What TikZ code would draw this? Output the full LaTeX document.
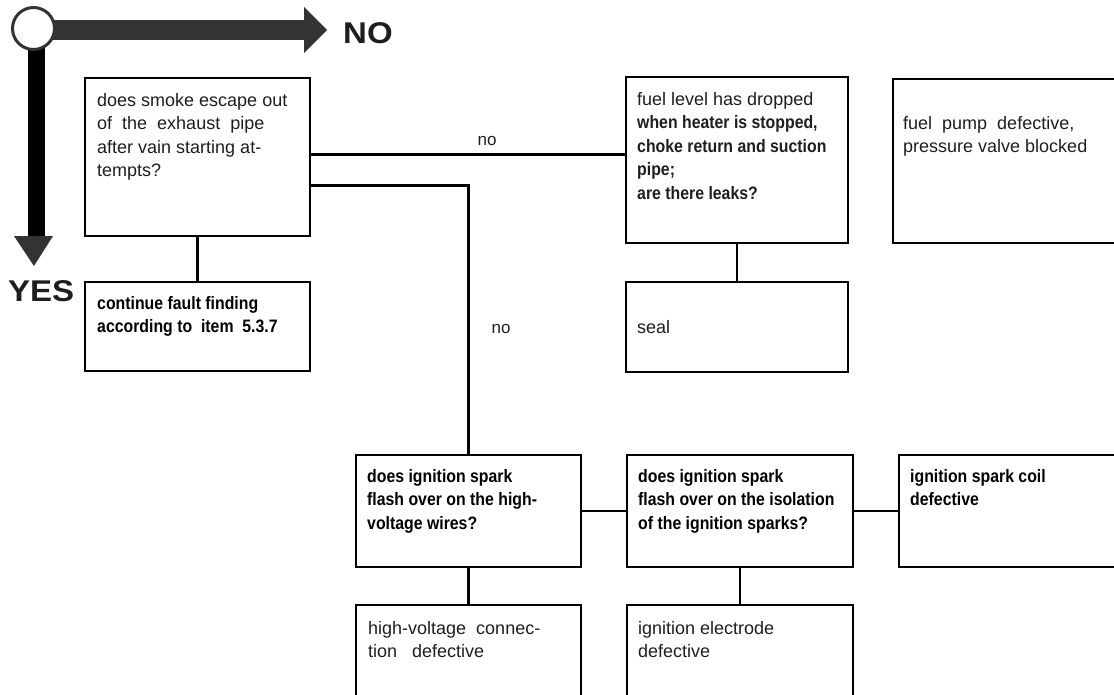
\documentclass[tikz,border=0pt]{standalone}
\usepackage{fontspec}
\setmainfont{Liberation Sans}
\newfontfamily\condsans{Liberation Sans}[FakeStretch=0.88]
\newfontfamily\widesans{Liberation Sans}[FakeStretch=1.1]
\usetikzlibrary{calc}
\definecolor{headgray}{HTML}{333333}
\definecolor{inkgray}{HTML}{1E1E1E}

\begin{document}
\begin{tikzpicture}[x=1pt,y=-1pt,
  box/.style={draw=black, line width=2pt, anchor=north west, inner sep=0pt, outer sep=0pt},
  txt/.style={anchor=north west, inner sep=0pt, align=left, text=inkgray,
    font=\fontsize{18}{23.5}\selectfont, execute at begin node={\rule{0pt}{14pt}}},
  btxt/.style={txt, text=black, font=\condsans\bfseries\fontsize{18}{23.5}\selectfont},
  link/.style={line width=2.5pt},
  nolink/.style={line width=3pt},
  lbl/.style={font=\fontsize{17}{20}\selectfont, anchor=base, inner sep=0pt, text=inkgray},
  big/.style={font=\widesans\bfseries\fontsize{30}{30}\selectfont, anchor=base west, inner sep=0pt, text=inkgray},
  hubcircle/.style={circle, draw=headgray, line width=3pt, fill=white, minimum size=42pt, inner sep=0pt}]

\useasboundingbox (0,0) rectangle (1114,694);

% ---- decision arrows: NO to the right, YES downwards ----
\coordinate (hub) at (33.5,28.5);
\fill[headgray] (hub |- 0,20) rectangle (304,40);
\fill[headgray] (304,7) -- (327,30) -- (304,53) -- cycle;
\fill[black] (28,0 |- hub) rectangle (45,237);
\fill[headgray] (14,236) -- (53,236) -- (34,266) -- cycle;
\node[hubcircle] (start) at (hub) {};
\node[big] (nolabel) at (343,43) {NO};
\node[big] (yeslabel) at (8,301) {YES};

% ---- boxes ----
\node[box, minimum width=225pt, minimum height=158pt] (q1) at (85,78) {};
\node[box, minimum width=225pt, minimum height=89pt]  (r1) at (85,282) {};
\node[box, minimum width=222pt, minimum height=166pt] (q2) at (626,77) {};
\node[box, minimum width=240pt, minimum height=164pt] (r2) at (893,79) {};
\node[box, minimum width=222pt, minimum height=90pt]  (r3) at (626,282) {};
\node[box, minimum width=225pt, minimum height=112pt] (q3) at (356,455) {};
\node[box, minimum width=226pt, minimum height=112pt] (q4) at (627,455) {};
\node[box, minimum width=240pt, minimum height=112pt] (r4) at (899,455) {};
\node[box, minimum width=225pt, minimum height=120pt] (r5) at (356,605) {};
\node[box, minimum width=226pt, minimum height=120pt] (r6) at (627,605) {};

% ---- box texts ----
\node[txt]  (q1t) at ($(q1.north west)+(12,15)$) {does smoke escape out\\of\ \ the\ \ exhaust\ \ pipe\\after vain starting at-\\tempts?};
\node[btxt] (r1t) at ($(r1.north west)+(12,14)$) {continue fault finding\\according to\ \ item\ \ 5.3.7};
\node[txt]  (q2t) at ($(q2.north west)+(11,15)$) {fuel level has dropped\\{\condsans\bfseries when heater is stopped,}\\{\condsans\bfseries choke return and suction}\\{\condsans\bfseries pipe;}\\{\condsans\bfseries are there leaks?}};
\node[txt]  (r2t) at ($(r2.north west)+(10,37)$) {fuel\ \ pump\ \ defective,\\pressure valve blocked};
\node[txt]  (r3t) at ($(r3.north west)+(11,37)$) {seal};
\node[btxt] (q3t) at ($(q3.north west)+(11,14)$) {does ignition spark\\flash over on the high-\\voltage wires?};
\node[btxt] (q4t) at ($(q4.north west)+(11,14)$) {does ignition spark\\flash over on the isolation\\of the ignition sparks?};
\node[btxt] (r4t) at ($(r4.north west)+(11,14)$) {ignition spark coil\\defective};
\node[txt]  (r5t) at ($(r5.north west)+(12,16)$) {high-voltage\ \ connec-\\tion\ \ \ defective};
\node[txt]  (r6t) at ($(r6.north west)+(11,16)$) {ignition electrode\\defective};

% ---- connectors ----
\draw[link] (q1.south) -- (r1.north);
\draw[nolink] ($(q1.north east)+(0,76)$) coordinate (n1) -- (n1 -| q2.west);
\draw[nolink] ($(q1.north east)+(0,107)$) -| (q3.north);
\draw[link] (q2.south) -- (r3.north);
\draw[link] (q3.east) -- (q4.west);
\draw[link] (q4.east) -- (r4.west);
\draw[link] (q3.south) -- (r5.north);
\draw[link] (q4.south) -- (r6.north);

% ---- branch labels ----
\node[lbl] (no1) at (487,145) {no};
\node[lbl] (no2) at (501,333) {no};

\end{tikzpicture}
\end{document}
